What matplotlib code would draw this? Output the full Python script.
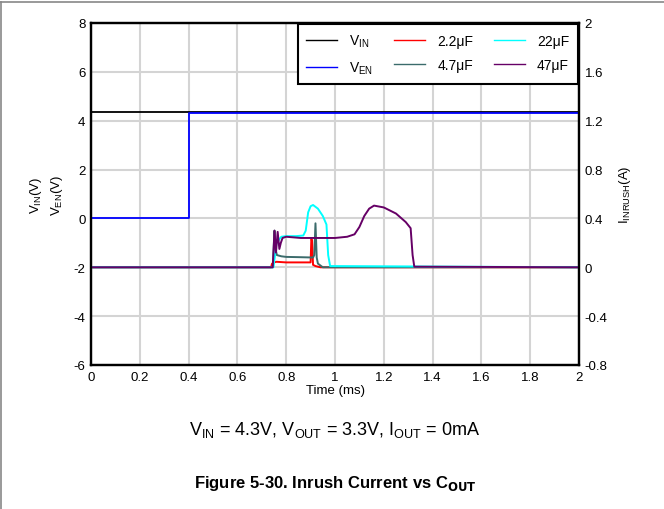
import matplotlib
matplotlib.use("Agg")
import matplotlib.pyplot as plt
from matplotlib.lines import Line2D

# ---------------- data ----------------
t_vin = [0.0, 2.0]
v_vin = [4.36, 4.36]

t_ven = [0.0, 0.4, 0.4, 2.0]
v_ven = [0.0, 0.0, 4.3, 4.3]

t_c22u = [0.0, 0.738, 0.742, 0.75, 0.76, 0.80, 0.85, 0.90, 0.903, 0.906, 0.91, 0.92, 0.94, 2.0]
i_c22u = [0.0, 0.0, 0.03, 0.04, 0.045, 0.04, 0.04, 0.04, 0.23, 0.22, 0.02, 0.01, 0.0, 0.0]

t_c47u = [0.0, 0.745, 0.752, 0.756, 0.762, 0.78, 0.80, 0.85, 0.91, 0.915, 0.92, 0.925, 0.93, 0.95, 2.0]
i_c47u = [0.0, 0.0, 0.30, 0.15, 0.10, 0.09, 0.085, 0.083, 0.08, 0.10, 0.36, 0.08, 0.03, 0.0, 0.0]

t_c22 = [0.0, 0.748, 0.76, 0.78, 0.80, 0.84, 0.87, 0.88, 0.89, 0.90, 0.91, 0.93, 0.95, 0.965, 0.972, 0.98, 2.0]
i_c22 = [0.0, 0.0, 0.20, 0.25, 0.255, 0.255, 0.26, 0.30, 0.45, 0.50, 0.51, 0.48, 0.42, 0.35, 0.10, 0.01, 0.0]

t_c47 = [0.0, 0.745, 0.752, 0.758, 0.765, 0.772, 0.778, 0.785, 0.80, 0.83, 0.86, 0.90, 0.95,
         1.0, 1.05, 1.08, 1.10, 1.12, 1.14, 1.16, 1.20, 1.25, 1.29, 1.31, 1.318, 1.325, 2.0]
i_c47 = [0.0, 0.0, 0.30, 0.12, 0.29, 0.15, 0.20, 0.24, 0.25, 0.245, 0.24, 0.24, 0.24,
         0.24, 0.25, 0.27, 0.33, 0.42, 0.48, 0.505, 0.49, 0.44, 0.37, 0.32, 0.10, 0.005, 0.0]

x_ticks = [0, 0.2, 0.4, 0.6, 0.8, 1, 1.2, 1.4, 1.6, 1.8, 2]
x_labels = ["0", "0.2", "0.4", "0.6", "0.8", "1", "1.2", "1.4", "1.6", "1.8", "2"]
yl_ticks = [-6, -4, -2, 0, 2, 4, 6, 8]
yr_ticks = [-0.8, -0.4, 0, 0.4, 0.8, 1.2, 1.6, 2]
yr_labels = ["-0.8", "-0.4", "0", "0.4", "0.8", "1.2", "1.6", "2"]

# ---------------- figure ----------------
plt.rcParams['font.family'] = ['Liberation Sans', 'DejaVu Sans']
plt.rcParams['axes.unicode_minus'] = False
fig = plt.figure(figsize=(6.64, 5.10), dpi=100)
ax = fig.add_axes([91/664, 1-366/510, (579-91)/664, (366-24)/510])
ax2 = ax.twinx()

ax.set_xlim(0, 2)
ax.set_ylim(-6, 8)
ax2.set_ylim(-0.8, 2)
ax.set_xticks(x_ticks)
ax.set_xticklabels(x_labels)
ax.set_yticks(yl_ticks)
ax2.set_yticks(yr_ticks)
ax2.set_yticklabels(yr_labels)
ax.grid(True, color='#d4d4d4', lw=1.5)
ax.set_axisbelow(True)
for a in (ax, ax2):
    a.tick_params(length=0, labelsize=9.5, pad=4)
    for s in a.spines.values():
        s.set_linewidth(1.6)

ax.plot(t_vin, v_vin, color='black', lw=1.3, zorder=3)
ax.plot(t_ven, v_ven, color='#0000ff', lw=1.3, zorder=4)

ax2.plot(t_c22u, i_c22u, color='#ff0000', lw=1.4)
ax2.plot(t_c47u, i_c47u, color='#3b6b6b', lw=1.4)
ax2.plot(t_c22, i_c22, color='#00ffff', lw=1.4)
ax2.plot(t_c47, i_c47, color='#660066', lw=1.4)

ax.set_xlabel("Time (ms)", fontsize=9.5, labelpad=1)

handles = [
    Line2D([], [], color='black', lw=1),
    Line2D([], [], color='#0000ff', lw=1),
    Line2D([], [], color='#ff0000', lw=1),
    Line2D([], [], color='#3b6b6b', lw=1),
    Line2D([], [], color='#00ffff', lw=1),
    Line2D([], [], color='#660066', lw=1),
]
labels = ["V$_{\\mathregular{IN}}$", "V$_{\\mathregular{EN}}$", "2.2\u03bcF", "4.7\u03bcF", "22\u03bcF", "47\u03bcF"]
leg = ax2.legend(handles, labels, ncol=3, loc='upper right', fontsize=10,
                 frameon=True, fancybox=False, edgecolor='black', framealpha=1,
                 borderaxespad=0.1, handlelength=2.2, columnspacing=1.5,
                 handletextpad=0.9, borderpad=0.6, labelspacing=0.75)
leg.get_frame().set_linewidth(1.5)

fig.text(36/664, 1-195/510, "V$_{\\mathregular{IN}}$(V)", rotation=90, ha='center', va='center', fontsize=9.5)
fig.text(57/664, 1-195/510, "V$_{\\mathregular{EN}}$(V)", rotation=90, ha='center', va='center', fontsize=9.5)
fig.text(625/664, 1-195/510, "I$_{\\mathregular{INRUSH}}$(A)", rotation=90, ha='center', va='center', fontsize=9.5)

fig.text(335/664, 1-430/510, "V$_{\\mathregular{IN}}$ = 4.3V, V$_{\\mathregular{OUT}}$ = 3.3V, I$_{\\mathregular{OUT}}$ = 0mA",
         ha='center', va='center', fontsize=13)
fig.text(335/664, 1-484/510, "Figure 5-30. Inrush Current vs C$_{\\mathregular{\\bf OUT}}$",
         ha='center', va='center', fontsize=12, fontweight='bold')

# page frame lines
fig.add_artist(Line2D([0.5/664, 0.5/664], [0, 1-3/510], transform=fig.transFigure, color='#888888', lw=1.2))
fig.add_artist(Line2D([0, 1], [1-3/510, 1-3/510], transform=fig.transFigure, color='#888888', lw=1.2))

fig.savefig("out.png", dpi=100)
